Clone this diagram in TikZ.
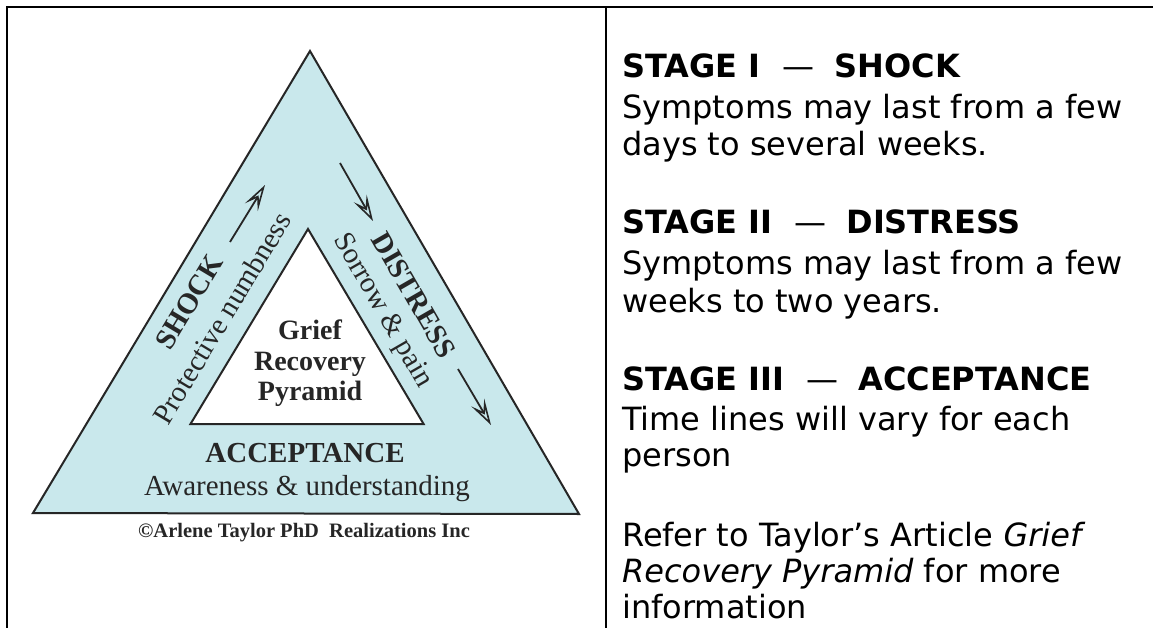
\documentclass[tikz,border=0pt]{standalone}
\usepackage{fontspec}
\newfontfamily\serifx{Liberation Serif}
\newfontfamily\sansx{DejaVu Sans}
\usetikzlibrary{arrows.meta}
\definecolor{pyrfill}{HTML}{C9E8EC}
\definecolor{ink}{HTML}{262626}
\begin{document}
\begin{tikzpicture}[x=1pt,y=-1pt,
  frame/.style={line width=2.5pt, draw=black, line cap=rect},
  tri/.style={draw=ink, line width=2pt, line join=miter},
  serifb/.style={font=\serifx\bfseries\fontsize{29}{32}\selectfont, text=ink, inner sep=0pt},
  serifr/.style={font=\serifx\fontsize{29}{32}\selectfont, text=ink, inner sep=0pt},
  centre/.style={font=\serifx\bfseries\fontsize{28}{30}\selectfont, text=ink, inner sep=0pt, anchor=base},
  copyr/.style={font=\serifx\bfseries\fontsize{20.5}{22}\selectfont, text=ink, inner sep=0pt, anchor=base},
  arr/.style={draw=ink, line width=1.8pt, -{Stealth[open, length=26pt, width=15pt, inset=11pt, line width=1.6pt]}},
  rhead/.style={font=\sansx\bfseries\fontsize{32}{39}\selectfont, text=black, inner sep=0pt, anchor=base west},
  rtext/.style={font=\sansx\fontsize{32}{39}\selectfont, text=black, inner sep=0pt, anchor=base west}
]
\useasboundingbox (0,0) rectangle (1153,628);
\fill[white] (0,0) rectangle (1153,628);

% frame
\coordinate (f0) at (7,628);
\coordinate (f1) at (7,7);
\coordinate (f2) at (1153,7);
\coordinate (d0) at (606,7);
\coordinate (d1) at (606,628);
\draw[frame] (f0) -- (f1) -- (f2);
\draw[frame] (d0) -- (d1);

% pyramid
\coordinate (oA) at (310,51);
\coordinate (oL) at (33,513);
\coordinate (oR) at (579,514);
\coordinate (iA) at (308,229);
\coordinate (iL) at (190.5,424);
\coordinate (iR) at (423.6,424);
\filldraw[tri, fill=pyrfill] (oA) -- (oL) -- (oR) -- cycle;
\filldraw[tri, fill=white] (iA) -- (iL) -- (iR) -- cycle;

% side labels
\node[serifb, rotate=59] (shock) at (189,302) {SHOCK};
\node[serifr, rotate=59] (prot) at (222,318) {Protective numbness};
\node[serifb, rotate=-60] (dist) at (414,295) {DISTRESS};
\node[serifr, rotate=-60] (sorrow) at (382,311) {Sorrow \& pain};

% arrows
\coordinate (la0) at (230,242);
\coordinate (la1) at (265,185);
\coordinate (ra0) at (340,163);
\coordinate (ra1) at (373,221);
\coordinate (rb0) at (458,369);
\coordinate (rb1) at (491,425);
\draw[arr] (la0) -- (la1);
\draw[arr] (ra0) -- (ra1);
\draw[arr] (rb0) -- (rb1);

% centre
\node[centre] (grief) at (310,339) {Grief};
\node[centre] (recov) at (310,370) {Recovery};
\node[centre] (pyr) at (310,400) {Pyramid};

% bottom band
\node[serifb, anchor=base] (acc) at (305,462) {ACCEPTANCE};
\node[serifr, anchor=base] (aware) at (307,495) {Awareness \& understanding};
\node[copyr] (copy) at (304,537) {©Arlene Taylor PhD\ \ Realizations Inc};

% right column
\node[rhead] (h1) at (622,78) {STAGE I\hspace{22pt}{\mdseries —}\hspace{20pt}SHOCK};
\node[rtext] (t1a) at (622,119) {Symptoms may last from a few};
\node[rtext] (t1b) at (622,156) {days to several weeks.};
\node[rhead] (h2) at (622,234) {STAGE II\hspace{22pt}{\mdseries —}\hspace{20pt}DISTRESS};
\node[rtext] (t2a) at (622,275) {Symptoms may last from a few};
\node[rtext] (t2b) at (622,312) {weeks to two years.};
\node[rhead] (h3) at (622,390) {STAGE III\hspace{22pt}{\mdseries —}\hspace{20pt}ACCEPTANCE};
\node[rtext] (t3a) at (622,430) {Time lines will vary for each};
\node[rtext] (t3b) at (622,466) {person};
\node[rtext] (r1) at (622,546) {Refer to Taylor’s Article \textit{Grief}};
\node[rtext] (r2) at (622,582) {\textit{Recovery Pyramid} for more};
\node[rtext] (r3) at (622,618) {information};
\end{tikzpicture}
\end{document}
